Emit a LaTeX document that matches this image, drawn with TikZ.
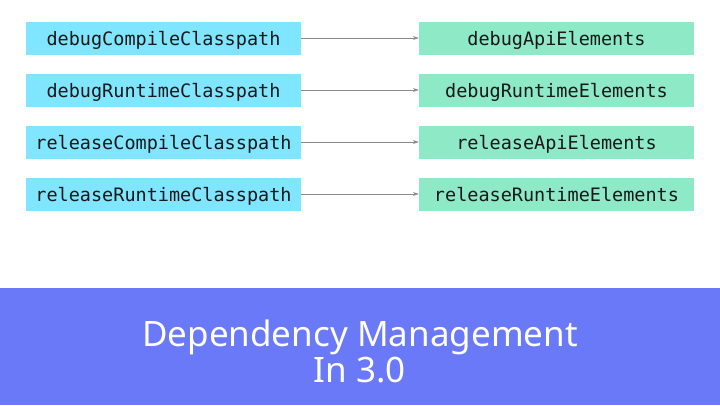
\documentclass[tikz,border=0pt]{standalone}
\usepackage{fontspec}
\setmainfont{Noto Sans}
\setmonofont{DejaVu Sans Mono}
\usetikzlibrary{arrows.meta}
\definecolor{cfgblue}{HTML}{80E5FF}
\definecolor{cfggreen}{HTML}{8DE9C6}
\definecolor{band}{HTML}{6979F8}
\definecolor{arrowgray}{HTML}{8A8A8A}
\tikzset{
  cfgbox/.style={rectangle, minimum width=275pt, minimum height=33pt, inner sep=0pt,
    text height=14pt, text depth=0pt,
    font=\fontsize{18.5}{20}\ttfamily, text=black!90},
  srcbox/.style={cfgbox, fill=cfgblue},
  dstbox/.style={cfgbox, fill=cfggreen},
  conn/.style={draw=arrowgray, line width=0.9pt, -{Stealth[length=6pt,width=4pt]}},
  title/.style={text=white, anchor=base, inner sep=0pt, font=\fontsize{35}{36}\selectfont}
}
\begin{document}
\begin{tikzpicture}[x=1pt,y=-1pt]
\useasboundingbox (0,0) rectangle (720,405);
\fill[white] (0,0) rectangle (720,405);
\fill[band] (0,288) rectangle (720,405);
\node[srcbox] (s1) at (163.5,38) {debugCompileClasspath};
\node[srcbox] (s2) at (163.5,90) {debugRuntimeClasspath};
\node[srcbox] (s3) at (163.5,142) {releaseCompileClasspath};
\node[srcbox] (s4) at (163.5,194) {releaseRuntimeClasspath};
\node[dstbox] (d1) at (556.5,38) {debugApiElements};
\node[dstbox] (d2) at (556.5,90) {debugRuntimeElements};
\node[dstbox] (d3) at (556.5,142) {releaseApiElements};
\node[dstbox] (d4) at (556.5,194) {releaseRuntimeElements};
\draw[conn] (s1) -- (d1);
\draw[conn] (s2) -- (d2);
\draw[conn] (s3) -- (d3);
\draw[conn] (s4) -- (d4);
\node[title] (t1) at (360,346) {Dependency Management};
\node[title] (t2) at (360,382) {In 3.0};
\end{tikzpicture}
\end{document}
